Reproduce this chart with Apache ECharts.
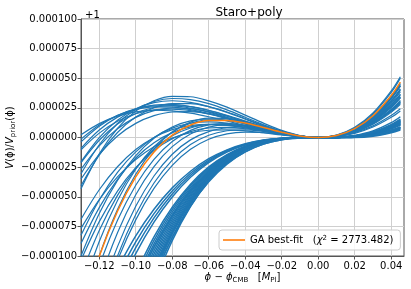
<!DOCTYPE html>
<html><head><meta charset="utf-8">
<script src="https://cdn.jsdelivr.net/npm/echarts@6/dist/echarts.min.js"></script>
<style>html,body{margin:0;padding:0;background:#fff}#c{width:411px;height:289px}</style>
</head><body><div id="c"></div>
<script>
// x positions (phi - phi_CMB, in M_Pl)
const phi = [-0.13,-0.12,-0.11,-0.10,-0.09,-0.08,-0.07,-0.06,-0.05,-0.04,-0.03,-0.02,-0.01,0,0.01,0.02,0.03,0.04,0.045];
// y values: V/V_prior - 1, in units of 1e-6
const upperCurves = [
 [-43.2,-13.8,7.7,22.3,31.0,34.7,34.4,30.9,25.6,18.9,12.1,6.0,1.7,0,2.0,8.6,20.7,39.3,51.3],
 [-30.6,-6.1,11.8,23.6,30.4,32.9,32.0,28.6,23.3,17.1,10.8,5.4,1.5,0,1.8,7.6,18.4,34.9,45.6],
 [-20.5,-0.1,14.6,24.2,29.4,31.0,29.7,26.1,21.2,15.4,9.8,4.8,1.4,0,1.6,6.8,16.4,31.0,40.4],
 [-40.7,-14.8,4.2,17.2,25.1,28.6,28.6,26.0,21.5,16.0,10.2,5.1,1.4,0,1.7,7.3,17.6,33.6,43.8],
 [-9.1,6.3,17.2,24.0,27.3,27.9,26.1,22.8,18.3,13.2,8.4,4.1,1.1,0,1.3,5.7,13.6,25.8,33.6],
 [-21.2,-2.3,11.4,20.3,25.3,27.0,26.0,23.0,18.8,13.8,8.7,4.3,1.2,0,1.4,6.1,14.7,27.8,36.3],
 [-1.4,10.5,18.8,23.7,25.9,25.6,23.6,20.3,16.2,11.7,7.3,3.5,1.0,0,1.1,4.9,11.7,22.1,28.9],
 [-26.8,-7.0,7.4,17.0,22.7,24.9,24.4,21.8,17.9,13.2,8.4,4.2,1.2,0,1.4,6.0,14.4,27.2,35.6],
 [-10.4,3.7,13.7,20.0,23.3,23.9,22.6,19.8,15.9,11.5,7.2,3.6,1.0,0,1.2,5.0,12.0,22.7,29.6],
 [2.3,11.7,18.0,21.6,23.0,22.4,20.5,17.5,13.9,10.0,6.2,3.1,0.8,0,1.0,4.1,9.8,18.6,24.2],
 [-35.0,-14.2,1.3,11.9,18.4,21.5,21.8,19.9,16.5,12.3,7.9,3.9,1.1,0,1.3,5.7,13.7,26.3,34.3],
 [-3.7,9.5,18.6,24.2,26.7,26.7,24.8,21.4,17.0,12.3,7.7,3.8,1.0,0,1.2,5.2,12.5,23.5,30.7]
];
const middleCurves = [
 [-82.5,-52.7,-29.4,-12.1,0.1,7.9,12.0,13.2,12.2,9.8,6.6,3.4,1.0,0,1.2,5.4,13.2,25.4,33.4],
 [-100.0,-64.2,-36.2,-15.3,-0.6,8.9,14.0,15.6,14.5,11.6,7.8,4.0,1.2,0,1.5,6.4,15.8,30.4,39.8],
 [-116.0,-78.5,-48.8,-26.1,-9.7,1.4,8.0,11.0,11.2,9.4,6.6,3.5,1.1,0,1.3,5.7,14.2,27.6,36.3],
 [-131.9,-87.7,-53.1,-26.8,-7.8,4.7,12.0,15.0,14.6,12.2,8.4,4.4,1.2,0,1.6,7.2,17.6,34.0,44.8],
 [-156.8,-108.4,-69.9,-40.3,-18.4,-3.4,6.0,10.7,11.8,10.4,7.4,4.0,1.1,0,1.5,6.8,16.8,32.8,43.3],
 [-173.8,-121.9,-80.4,-48.3,-24.5,-7.7,3.0,8.8,10.6,9.7,7.1,3.8,1.1,0,1.5,6.8,16.9,32.9,43.5],
 [-189.5,-135.5,-92.1,-58.1,-32.5,-14.1,-2.0,5.0,8.0,8.0,6.1,3.5,1.0,0,1.4,6.3,15.9,31.0,41.1],
 [-199.2,-144.3,-100.0,-65.0,-38.4,-19.1,-6.0,1.9,5.7,6.5,5.2,3.0,0.9,0,1.3,5.8,14.8,29.1,38.5],
 [-200.3,-147.1,-103.8,-69.5,-43.0,-23.5,-10.0,-1.5,3.1,4.5,4.1,2.5,0.7,0,1.1,5.1,12.9,25.5,33.9],
 [-103.5,-71.0,-45.2,-25.5,-11.0,-1.1,5.0,8.0,8.5,7.4,5.2,2.7,0.8,0,1.1,4.7,11.6,22.6,29.9],
 [-89.5,-59.2,-35.4,-17.3,-4.4,4.1,9.0,10.9,10.5,8.7,5.9,3.1,0.9,0,1.1,5.1,12.3,23.9,31.4],
 [-149.7,-99.9,-60.7,-31.0,-9.6,4.7,13.0,16.4,16.2,13.4,9.3,4.9,1.4,0,1.8,7.9,19.7,38.0,50.1],
 [-69.0,-44.1,-24.7,-10.2,0.0,6.6,10.0,11.0,10.2,8.2,5.5,2.9,0.8,0,1.0,4.5,11.1,21.2,27.9],
 [-76.7,-52.4,-33.3,-18.6,-7.8,-0.5,4.0,6.1,6.5,5.6,4.0,2.1,0.6,0,0.8,3.5,8.8,17.0,22.4]
];
const lowerCurves = [
 [null,null,-110.5,-83.0,-60.5,-42.5,-28.5,-17.9,-10.4,-5.3,-2.2,-0.7,-0.1,0,0.1,0.7,2.2,5.3,7.6],
 [null,null,-117.1,-88.0,-64.2,-45.1,-30.2,-19.0,-11.0,-5.6,-2.4,-0.7,-0.1,0,0.1,0.7,2.4,5.6,8.0],
 [null,null,-123.8,-93.0,-67.8,-47.6,-31.9,-20.1,-11.6,-6.0,-2.5,-0.7,-0.1,0,0.1,0.7,2.5,6.0,8.5],
 [null,null,-130.4,-98.0,-71.4,-50.2,-33.6,-21.2,-12.3,-6.3,-2.6,-0.8,-0.1,0,0.1,0.8,2.6,6.3,8.9],
 [null,null,-164.6,-125.0,-92.3,-65.9,-45.1,-29.2,-17.5,-9.4,-4.3,-1.5,-0.3,0,0,0.3,1.6,4.6,7.0],
 [null,null,null,-115.0,-83.8,-58.9,-39.4,-24.8,-14.4,-7.4,-3.1,-0.9,-0.1,0,0.1,0.9,3.1,7.4,10.5],
 [null,null,null,-119.0,-86.8,-60.9,-40.8,-25.7,-14.9,-7.6,-3.2,-1.0,-0.1,0,0.1,1.0,3.2,7.6,10.8],
 [null,null,null,-123.0,-89.7,-63.0,-42.2,-26.6,-15.4,-7.9,-3.3,-1.0,-0.1,0,0.1,1.0,3.3,7.9,11.2],
 [null,null,null,-127.0,-92.6,-65.0,-43.6,-27.4,-15.9,-8.1,-3.4,-1.0,-0.1,0,0.1,1.0,3.4,8.1,11.6],
 [null,null,null,-131.0,-95.5,-67.1,-44.9,-28.3,-16.4,-8.4,-3.5,-1.0,-0.1,0,0.1,1.0,3.5,8.4,11.9],
 [null,null,null,-135.0,-98.4,-69.1,-46.3,-29.2,-16.9,-8.6,-3.6,-1.1,-0.1,0,0.1,1.1,3.6,8.6,12.3],
 [null,null,null,-139.0,-101.3,-71.2,-47.7,-30.0,-17.4,-8.9,-3.8,-1.1,-0.1,0,0.1,1.1,3.8,8.9,12.7],
 [null,null,null,-143.0,-104.2,-73.2,-49.0,-30.9,-17.9,-9.2,-3.9,-1.1,-0.1,0,0.1,1.1,3.9,9.2,13.0],
 [null,null,null,-147.0,-107.2,-75.3,-50.4,-31.8,-18.4,-9.4,-4.0,-1.2,-0.1,0,0.1,1.2,4.0,9.4,13.4],
 [null,null,null,-151.0,-110.1,-77.3,-51.8,-32.6,-18.9,-9.7,-4.1,-1.2,-0.2,0,0.2,1.2,4.1,9.7,13.8],
 [null,null,null,-155.0,-113.0,-79.4,-53.2,-33.5,-19.4,-9.9,-4.2,-1.2,-0.2,0,0.2,1.2,4.2,9.9,14.1],
 [null,null,null,-159.0,-115.9,-81.4,-54.5,-34.3,-19.9,-10.2,-4.3,-1.3,-0.2,0,0.2,1.3,4.3,10.2,14.5],
 [null,null,null,-164.0,-119.6,-84.0,-56.3,-35.4,-20.5,-10.5,-4.4,-1.3,-0.2,0,0.2,1.3,4.4,10.5,14.9],
 [null,null,null,-170.0,-123.9,-87.0,-58.3,-36.7,-21.3,-10.9,-4.6,-1.4,-0.2,0,0.2,1.4,4.6,10.9,15.5],
 [null,null,null,-150.0,-111.4,-80.0,-55.1,-36.0,-21.9,-12.0,-5.6,-2.0,-0.4,0,-0.1,0,1.1,4.0,6.3],
 [null,null,null,-160.0,-118.3,-84.5,-57.8,-37.4,-22.5,-12.2,-5.6,-1.9,-0.3,0,-0.1,0.3,2.0,5.8,8.7],
 [null,null,null,-160.0,-115.8,-80.6,-53.4,-33.1,-18.8,-9.3,-3.7,-1.0,-0.1,0,0.3,1.8,5.5,12.5,17.5]
];
const bestFit = [-148.4,-100.2,-62.2,-33.2,-12.2,2.0,10.5,14.3,14.4,12.2,8.5,4.5,1.3,0,1.7,7.5,18.3,35.4,46.7];
const xTickValues = [-0.12,-0.10,-0.08,-0.06,-0.04,-0.02,0,0.02,0.04];
const bestFitName = 'GA best-fit';
const chi2Text = '2773.482';

const blue = '#1f77b4', orange = '#ff7f0e';
const FONT = 'DejaVu Sans';
const minus = s => s.replace('-', '\u2212');
const pairs = ys => phi.map((x, i) => [x, ys[i]]);

const series = [];
[...upperCurves, ...middleCurves].forEach(ys => {
  series.push({type: 'line', data: pairs(ys), symbol: 'none', smooth: 0.33, silent: true,
    lineStyle: {color: blue, width: 1.2}, itemStyle: {color: blue}, z: 2, emphasis: {disabled: true}});
});
lowerCurves.forEach(ys => {
  series.push({type: 'line', data: pairs(ys), symbol: 'none', smooth: 0.33, silent: true,
    lineStyle: {color: blue, width: 1.5}, itemStyle: {color: blue}, z: 2, emphasis: {disabled: true}});
});
series.push({name: bestFitName, type: 'line', data: pairs(bestFit), symbol: 'none', smooth: 0.33, silent: true,
  lineStyle: {color: orange, width: 1.5}, itemStyle: {color: orange}, z: 3, emphasis: {disabled: true}});

const chart = echarts.init(document.getElementById('c'), null, {renderer: 'canvas'});
chart.setOption({
  animation: false,
  backgroundColor: '#fff',
  textStyle: {fontFamily: FONT},
  title: [
    {text: 'Staro+poly', left: 244, top: 2, textAlign: 'center',
     textStyle: {fontFamily: FONT, fontSize: 12, fontWeight: 'normal', color: '#000'}},
    {text: '+1', left: 80, top: 5,
     textStyle: {fontFamily: FONT, fontSize: 10, fontWeight: 'normal', color: '#000'}}
  ],
  grid: {left: 81, right: 7, top: 19, bottom: 33, show: true, borderColor: '#555', borderWidth: 1,
    backgroundColor: 'transparent', containLabel: false, outerBoundsMode: 'none'},
  legend: {
    data: [{name: bestFitName, icon: 'rect'}],
    left: 219, top: 230, orient: 'horizontal',
    padding: [5, 7, 5, 4], itemWidth: 22, itemHeight: 1.6,
    backgroundColor: 'rgba(255,255,255,0.85)', borderColor: '#cccccc', borderWidth: 1, borderRadius: 3,
    selectedMode: false,
    formatter: name => name + '   ({i|\u03c7}{s|2} = ' + chi2Text + ')',
    textStyle: {fontFamily: FONT, fontSize: 10, color: '#000',
      rich: {i: {fontFamily: FONT, fontSize: 10, fontStyle: 'italic'},
             s: {fontFamily: FONT, fontSize: 7, verticalAlign: 'top'}}}
  },
  xAxis: {
    type: 'value', min: -0.13, max: 0.047, splitNumber: 9, minInterval: 0.02, maxInterval: 0.02,
    axisLine: {show: true, onZero: false, lineStyle: {color: '#555', width: 1}},
    axisTick: {show: true, length: 3.5, customValues: xTickValues, lineStyle: {color: '#555', width: 1}},
    axisLabel: {customValues: xTickValues, formatter: v => minus(Number(v).toFixed(2)),
      fontFamily: FONT, fontSize: 10, color: '#000', margin: 5},
    splitLine: {show: true, lineStyle: {color: '#cfcfcf', width: 1}},
    name: '{i|\u03d5} \u2212 {i|\u03d5}{sub|CMB}   [{i|M}{sub|Pl}]',
    nameLocation: 'middle', nameGap: 15, nameMoveOverlap: false,
    nameTextStyle: {fontFamily: FONT, fontSize: 10, color: '#000',
      rich: {i: {fontFamily: FONT, fontSize: 10, fontStyle: 'italic', lineHeight: 13},
             sub: {fontFamily: FONT, fontSize: 7, verticalAlign: 'bottom', lineHeight: 13}}}
  },
  yAxis: {
    type: 'value', min: -100, max: 100, interval: 25,
    axisLine: {show: true, onZero: false, lineStyle: {color: '#555', width: 1}},
    axisTick: {show: true, length: 3.5, lineStyle: {color: '#555', width: 1}},
    axisLabel: {formatter: v => minus((v / 1e6).toFixed(6)), fontFamily: FONT, fontSize: 10, color: '#000', margin: 4},
    splitLine: {show: true, lineStyle: {color: '#cfcfcf', width: 1}},
    name: '{i|V}(\u03d5)/{i|V}{sub|prior}(\u03d5)',
    nameLocation: 'middle', nameRotate: 90, nameGap: 64, nameMoveOverlap: false,
    nameTextStyle: {fontFamily: FONT, fontSize: 10, color: '#000',
      rich: {i: {fontFamily: FONT, fontSize: 10, fontStyle: 'italic', lineHeight: 13},
             sub: {fontFamily: FONT, fontSize: 7, verticalAlign: 'bottom', lineHeight: 13}}}
  },
  series: series
});
</script></body></html>
